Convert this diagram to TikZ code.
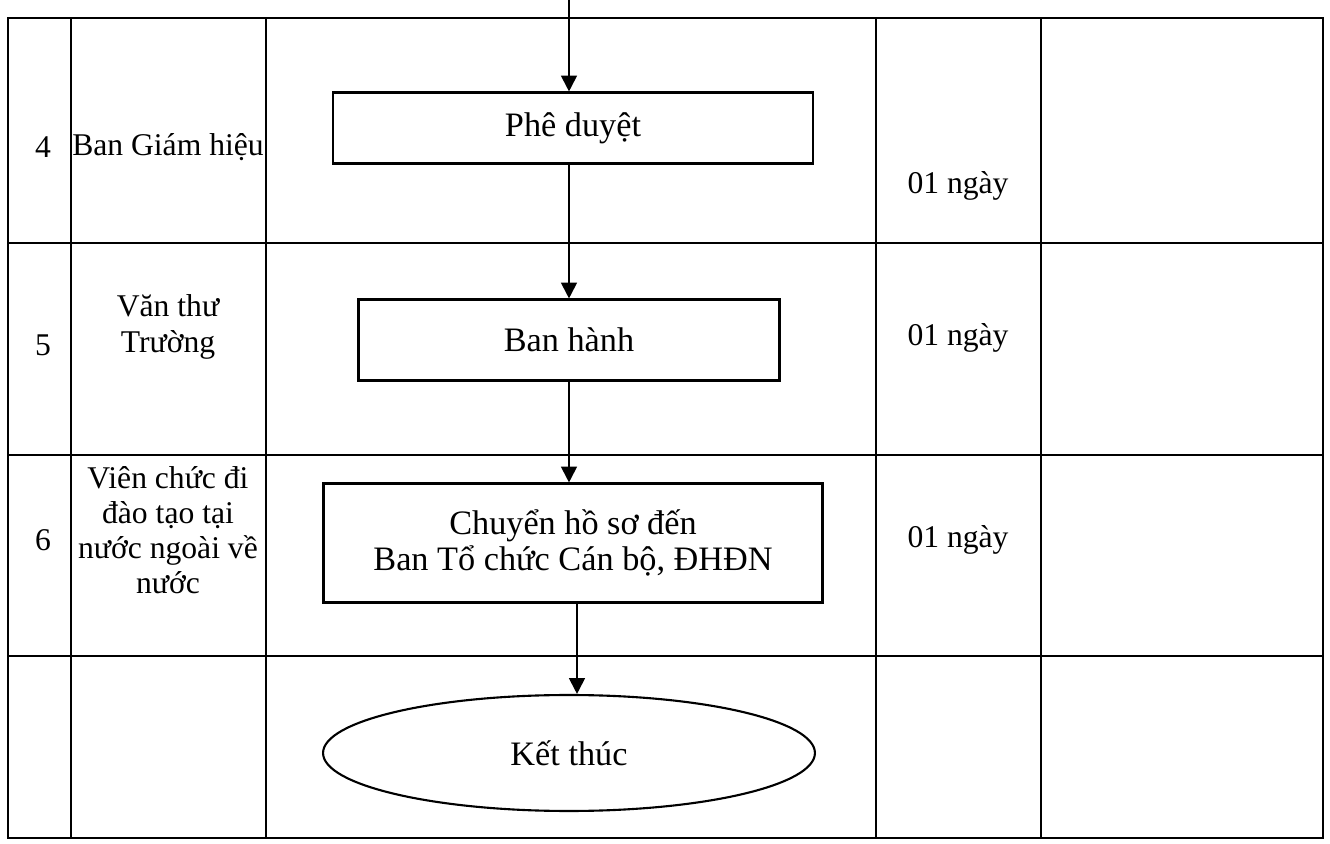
\documentclass[tikz,border=0pt]{standalone}
\usepackage{fontspec}
\setmainfont{Liberation Serif}
\usetikzlibrary{shapes.geometric,arrows.meta}

\begin{document}
\begin{tikzpicture}[x=0.02cm, y=-0.02cm,
    every node/.style={font=\fontsize{18}{20}\selectfont, align=center},
    procbox/.style={draw, line width=1.2pt, inner sep=0pt,
      font=\fontsize{19.5}{20.5}\selectfont},
    endbox/.style={draw, ellipse, line width=1.2pt, inner sep=0pt,
      minimum width=9.84cm, minimum height=2.32cm,
      font=\fontsize{19.5}{20.5}\selectfont},
    flow/.style={-{Triangle[length=9pt,width=9pt]}, line width=1.1pt},
    grid/.style={line width=1pt}]

        \useasboundingbox (0,0) rectangle (1330,844);

        % table
        \draw[grid] (8,18) rectangle (1323,838);
        \foreach \x in {71,266,876,1041}
          \draw[grid] (\x,18) -- (\x,838);
        \foreach \y in {243,455,656}
          \draw[grid] (8,\y) -- (1323,\y);

        % row 4
        \node (n4) at (43,147) {4};
        \node (dv4) at (168,147) {Ban Giám hiệu};
        \node (t4) at (958,186) {01 ngày};

        % row 5
        \node (n5) at (43,345) {5};
        \node (dv5) at (168,327) {Văn thư\\Trường};
        \node (t5) at (958,338) {01 ngày};

        % row 6
        \node (n6) at (43,540) {6};
        \node (dv6) at (168,530) {Viên chức đi\\đào tạo tại\\nước ngoài về\\nước};
        \node (t6) at (958,540) {01 ngày};

        % flow
        \coordinate (start) at (569,0);
        \node[procbox, minimum width=9.6cm, minimum height=1.42cm] (pheduyet) at (573,128) {Phê duyệt};
        \node[procbox, minimum width=8.42cm, minimum height=1.62cm] (banhanh) at (569,340) {Ban hành};
        \node[procbox, minimum width=9.98cm, minimum height=2.38cm] (chuyen) at (573,543) {Chuyển hồ sơ đến\\Ban Tổ chức Cán bộ, ĐHĐN};
        \node[endbox] (ketthuc) at (569,753) {Kết thúc};

        \draw[flow] (start) -- (start |- pheduyet.north);
        \draw[flow] (start |- pheduyet.south) -- (start |- banhanh.north);
        \draw[flow] (banhanh.south) -- (start |- chuyen.north);
        \draw[flow] ([xshift=0.08cm]chuyen.south) -- ([xshift=0.08cm]chuyen.south |- ketthuc.north);

      \end{tikzpicture}
\end{document}
